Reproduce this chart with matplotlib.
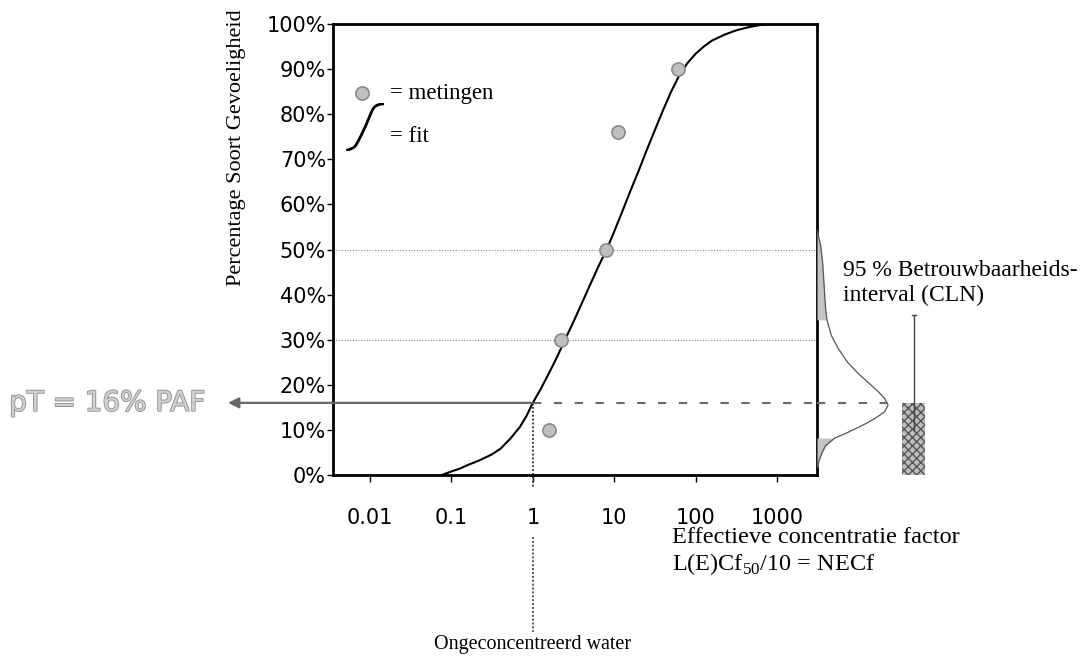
import numpy as np
import matplotlib
matplotlib.use("Agg")
import matplotlib.pyplot as plt
from matplotlib.patches import Rectangle
import matplotlib.patheffects as pe

# data
fit_x = [0.076, 0.1, 0.126, 0.158, 0.224, 0.316, 0.398, 0.525, 0.69, 0.83, 1.0, 1.26, 1.58,
         2.0, 2.51, 3.16, 3.98, 5.0, 6.3, 8.3, 10, 12.6, 15.8, 20, 25, 31.6, 40, 50, 63,
         79, 100, 126, 158, 224, 316, 447, 631, 794, 3100]
fit_y = [0, 0.8, 1.4, 2.2, 3.3, 4.6, 5.8, 8, 10.6, 13, 16, 19.2, 22.6,
         26.3, 30.2, 34, 38, 42, 46, 50.5, 54, 58.5, 63, 67.5, 72, 76.5, 81, 85, 88.6,
         91.3, 93.4, 95, 96.3, 97.6, 98.6, 99.3, 99.8, 100, 100]
meting_x = [1.6, 2.2, 7.9, 11, 60]
meting_y = [10, 30, 50, 76, 90]
grid_y = [30, 50]
pT = 16
x_ticks = [0.01, 0.1, 1, 10, 100, 1000]
x_ticklabels = ["0.01", "0.1", "1", "10", "100", "1000"]
y_ticks = [0, 10, 20, 30, 40, 50, 60, 70, 80, 90, 100]
y_ticklabels = [f"{v}%" for v in y_ticks]
dens_y = [54.3, 51, 47, 42, 37, 34.4, 31, 28, 25, 22.5, 20.5, 18.5, 17, 15.5,
          14, 12.9, 11.5, 10.4, 9.2, 8.2, 6.5, 4.9, 3.2, 1.8]
dens_w = [0, 0.05, 0.08, 0.1, 0.12, 0.14, 0.2, 0.3, 0.43, 0.58, 0.72, 0.86, 0.95, 1.0,
          0.95, 0.85, 0.7, 0.56, 0.4, 0.25, 0.12, 0.07, 0.03, 0.01]
tail_hi = 34.4
tail_lo = 8.2
ci_low, ci_high = 0, 16

serif = ["Liberation Serif", "DejaVu Serif"]
plt.rcParams["mathtext.fontset"] = "custom"
plt.rcParams["mathtext.rm"] = "Liberation Serif"

fig = plt.figure(figsize=(10.88, 6.56), dpi=100)
ax = fig.add_axes([333 / 1088, 1 - 475 / 656, 484 / 1088, 451 / 656])

ax.set_xscale("log")
ax.set_xlim(0.0035, 3100)
ax.set_ylim(0, 100)

for g in grid_y:
    ax.axhline(g, color="#888888", lw=0.8, ls=(0, (1, 1.5)), zorder=1)

ax.plot(fit_x, fit_y, color="black", lw=1.5, zorder=3)
ax.plot(meting_x, meting_y, "o", ms=9.5, mfc="#c0c0c0", mec="#8a8a8a", mew=1.2, zorder=4)

# 16% line: solid up to the curve, dashed beyond
ax.annotate("", xy=(-0.217, pT), xycoords=ax.get_yaxis_transform(),
            xytext=(1, pT), textcoords="data",
            arrowprops=dict(arrowstyle="-|>", color="#666666", lw=1.6,
                            mutation_scale=16, shrinkA=0, shrinkB=0))
ax.plot([1, 3100], [pT, pT], color="#6a6a6a", lw=1.5, ls=(0, (4, 6)), zorder=2)
ax.plot([1, 1], [pT, -2.7], color="#444444", lw=1.4, ls=(0, (1, 1)), clip_on=False)
ax.plot([1, 1], [-13.7, -34.8], color="#555555", lw=1.4, ls=(0, (1, 1)), clip_on=False)

ax.text(-0.264, pT, "pT = 16% PAF", transform=ax.get_yaxis_transform(),
        ha="right", va="center", fontsize=20, color="#d0d0d0",
        path_effects=[pe.withStroke(linewidth=1.2, foreground="#8c8c8c")])

# legend
ax.plot([0.06], [0.847], "o", ms=9.5, mfc="#c0c0c0", mec="#8a8a8a", mew=1.2,
        transform=ax.transAxes, clip_on=False)
ax.text(0.118, 84.7, "= metingen", transform=ax.get_yaxis_transform(),
        ha="left", va="center", fontsize=16.5, family=serif)
ax.text(0.118, 75, "= fit", transform=ax.get_yaxis_transform(),
        ha="left", va="center", fontsize=16.5, family=serif)
lx = fig.add_axes([346 / 1088, 1 - 151 / 656, 38 / 1088, 48 / 656])
lx.set_xscale("log")
lx.set_xlim(0.05, 1200)
lx.set_ylim(-2, 102)
lx.axis("off")
lx.plot(fit_x, fit_y, color="black", lw=2.0)

ax.set_xticks(x_ticks)
ax.set_xticklabels(x_ticklabels)
ax.minorticks_off()
ax.set_yticks(y_ticks)
ax.set_yticklabels(y_ticklabels)
ax.tick_params(axis="x", length=5, width=1, pad=19, labelsize=15)
ax.tick_params(axis="y", length=4, width=1, pad=1, labelsize=15)
for s in ax.spines.values():
    s.set_linewidth(2.0)

ax.set_ylabel("Percentage Soort Gevoeligheid", fontsize=16, family=serif)
ax.yaxis.set_label_coords(-0.18, 0.725)

ax.text(0.7, -0.138, "Effectieve concentratie factor", transform=ax.transAxes,
        ha="left", va="center", fontsize=17.5, family=serif)
ax.text(0.7, -0.197, r"L(E)C$\mathrm{f}_{50}$/10 = NECf", transform=ax.transAxes,
        ha="left", va="center", fontsize=17.5, family=serif)
ax.text(1, -37.5, "Ongeconcentreerd water", transform=ax.transData,
        ha="center", va="center", fontsize=14.5, family=serif, clip_on=False)

# distribution of the estimate at the right side
dx = fig.add_axes([817 / 1088, 1 - 475 / 656, 123 / 1088, 451 / 656])
dx.set_xlim(0, 1.73)
dx.set_ylim(0, 100)
dx.axis("off")
dy = np.array(dens_y)
dw = np.array(dens_w)
dx.plot(dw, dy, color="#555555", lw=0.9)
dx.fill_betweenx(dy, 0, dw, where=dy >= tail_hi, color="#c4c4c4", lw=0)
dx.fill_betweenx(dy, 0, dw, where=dy <= tail_lo, color="#c4c4c4", lw=0)
dx.plot([0, 1], [pT, pT], color="#6a6a6a", lw=1.5, ls=(0, (4, 6)))
dx.add_patch(Rectangle((1.2, ci_low), 0.32, ci_high - ci_low, facecolor="#bdbdbd",
                       edgecolor="#555555", hatch="xxxx", lw=0))
dx.plot([1.36, 1.36], [10, 35.5], color="#444444", lw=1.0)
dx.plot([1.33, 1.39], [35.5, 35.5], color="#444444", lw=1.0)
dx.text(0.36, 42.6, "95 % Betrouwbaarheids-\ninterval (CLN)", ha="left", va="center",
        fontsize=17, family=serif, linespacing=1.2, clip_on=False)

fig.savefig("out.png", dpi=100)
